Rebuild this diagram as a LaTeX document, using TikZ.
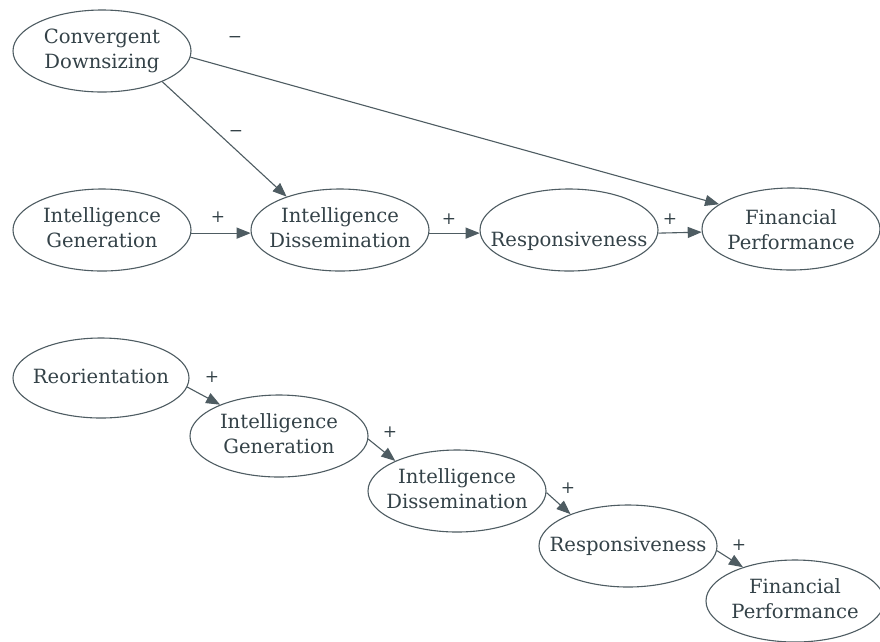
\documentclass[tikz,border=0pt]{standalone}
\usepackage{fontspec}
\setmainfont{DejaVu Serif}
\usetikzlibrary{arrows.meta,shapes.geometric}
\definecolor{ln}{RGB}{78,92,98}
\definecolor{tx}{RGB}{52,66,72}
\newcommand\lbl[1]{\makebox[0pt]{\begin{tabular}{@{}c@{}}#1\end{tabular}}}
\newcommand\lblr[2]{\raisebox{#1}[0pt][0pt]{\lbl{#2}}}
\begin{document}
\begin{tikzpicture}[x=1pt,y=-1pt,
  el/.style={ellipse, draw=ln, line width=1.1pt, minimum width=178pt, minimum height=82pt,
             inner sep=0pt, text=tx, font=\fontsize{19.6}{25}\selectfont},
  arr/.style={draw=ln, line width=1.1pt, -{Triangle[length=14pt,width=11pt]}},
  sg/.style={text=tx, inner sep=0pt, font=\fontsize{17}{18}\selectfont}]
\useasboundingbox[fill=white] (0,0) rectangle (880,641);
% top model
\node[el] (cd)  at (102,51)  {\lbl{Convergent\\Downsizing}};
\node[el] (ig1) at (102,230) {\lbl{Intelligence\\Generation}};
\node[el] (id1) at (340,230) {\lbl{Intelligence\\Dissemination}};
\node[el] (rs1) at (569,230) {\lblr{-17pt}{Responsiveness}};
\node[el] (fp1) at (791,229) {\lblr{-8pt}{Financial\\Performance}};
\draw[arr] (cd.-27) -- (id1.148);
\draw[arr] (cd.-4) -- (fp1.161);
\draw[arr] (ig1.-2) -- (id1.182);
\draw[arr] (id1.-2) -- (rs1.182);
\draw[arr] (rs1.-2) -- (fp1.182);
\node[sg] (m1) at (235,39)  {−};
\node[sg] (m2) at (236,133) {−};
\node[sg] (p1) at (218,217) {+};
\node[sg] (p2) at (449,219) {+};
\node[sg] (p3) at (670,219) {+};
% bottom model
\node[el, minimum width=176pt, minimum height=80pt] (re) at (101,378) {\lbl{Reorientation}};
\node[el] (ig2) at (279,436) {\lbl{Intelligence\\Generation}};
\node[el] (id2) at (457,491) {\lbl{Intelligence\\Dissemination}};
\node[el] (rs2) at (628,546) {\lbl{Responsiveness}};
\node[el] (fp2) at (795,601) {\lbl{Financial\\Performance}};
\draw[arr] (re.-6) -- (ig2.152);
\draw[arr] (ig2.-2) -- (id2.154);
\draw[arr] (id2.-1) -- (rs2.151);
\draw[arr] (rs2.-3) -- (fp2.147);
\node[sg] (p4) at (212,377) {+};
\node[sg] (p5) at (390,432) {+};
\node[sg] (p6) at (568,488) {+};
\node[sg] (p7) at (739,545) {+};
\end{tikzpicture}
\end{document}
